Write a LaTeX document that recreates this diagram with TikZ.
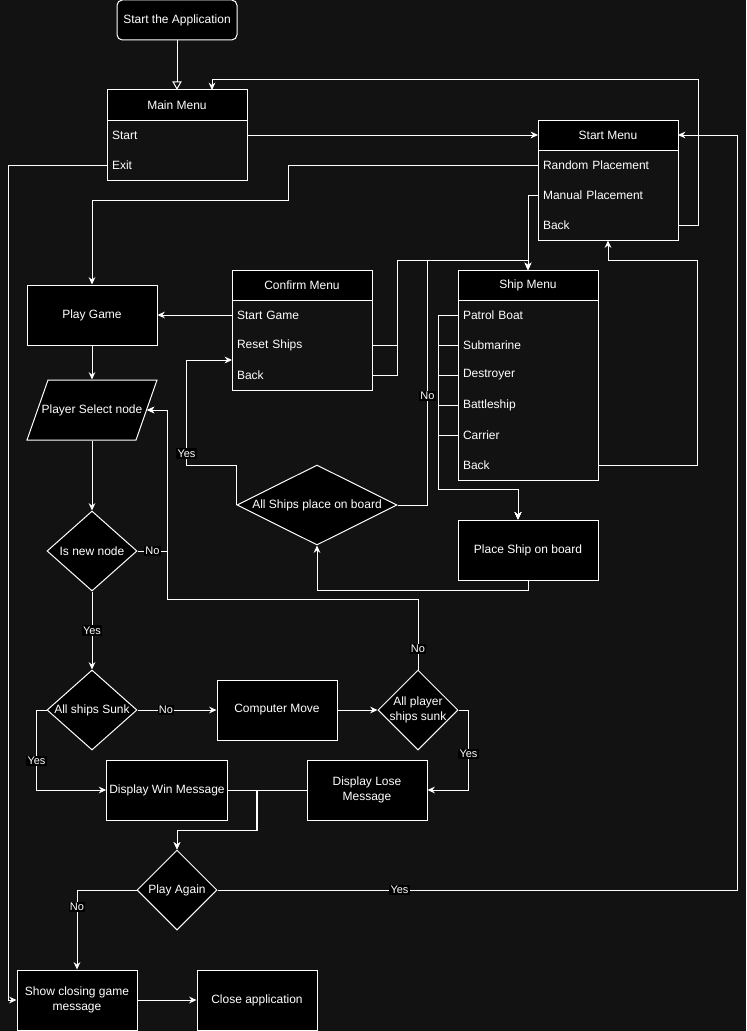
\documentclass[tikz,border=0pt]{standalone}
\usepackage{fontspec}
\setmainfont{Liberation Sans}
\usetikzlibrary{shapes.geometric, arrows.meta, positioning, calc, fit}
\definecolor{bgdark}{RGB}{18,18,18}

\begin{document}
\begin{tikzpicture}[x=0.75pt, y=-0.75pt, line width=0.75pt,
  every node/.style={text=white, font=\fontsize{9}{11}\selectfont},
  box/.style={draw=white, fill=black, minimum width=90pt, minimum height=45pt,
              align=center, inner sep=2pt},
  hdr/.style={draw=white, fill=black, minimum width=105pt, minimum height=22.5pt,
              inner sep=0pt, outer sep=0pt},
  item/.style={minimum height=22.5pt, text width=97.5pt, inner xsep=3.75pt,
               inner ysep=0pt, outer sep=0pt, align=left},
  frame/.style={draw=white, inner sep=0pt},
  dec/.style={diamond, draw=white, fill=black, inner sep=0pt},
  lbl/.style={fill=black, font=\fontsize{8.25}{9}\selectfont, inner sep=1pt},
  arr/.style={draw=white, -{Stealth[length=5.5pt, width=5pt]}},
]
\path[use as bounding box, fill=bgdark] (0,0) rectangle (746,1031);

% Start and main menu
\node[box, rounded corners=4pt, minimum height=30pt] (startapp) at (177,20) {Start the Application};
\node[hdr] (mainmenu) at (177,105) {Main Menu};
\node[item, below=0pt of mainmenu] (mmstart) {Start};
\node[item, below=0pt of mmstart] (mmexit) {Exit};
\node[frame, fit=(mainmenu)(mmexit)] (mainbox) {};

% Start menu
\node[hdr] (startmenu) at (608,135) {Start Menu};
\node[item, below=0pt of startmenu] (smrandom) {Random Placement};
\node[item, below=0pt of smrandom] (smmanual) {Manual Placement};
\node[item, below=0pt of smmanual] (smback) {Back};
\node[frame, fit=(startmenu)(smback)] (startbox) {};

% Confirm menu
\node[hdr] (confirm) at (302,285) {Confirm Menu};
\node[item, below=0pt of confirm] (cmstart) {Start Game};
\node[item, below=0pt of cmstart] (cmreset) {Reset Ships};
\node[item, below=0pt of cmreset] (cmback) {Back};
\node[frame, fit=(confirm)(cmback)] (confirmbox) {};

% Ship menu
\node[hdr] (shipmenu) at (528,285) {Ship Menu};
\node[item, below=0pt of shipmenu] (patrol) {Patrol Boat};
\node[item, below=0pt of patrol] (submarine) {Submarine};
\node[item, below=0pt of submarine] (destroyer) {Destroyer};
\node[item, below=0pt of destroyer] (battleship) {Battleship};
\node[item, below=0pt of battleship] (carrier) {Carrier};
\node[item, below=0pt of carrier] (shipback) {Back};
\node[frame, fit=(shipmenu)(shipback)] (shipbox) {};

\node[box, minimum width=105pt] (placeship) at (528,550) {Place Ship on board};
\node[dec, minimum width=120pt, minimum height=60pt] (shipsdone) at (317,505) {\makebox[0pt]{All Ships place on board}};

% Game loop
\node[box, minimum width=97.5pt] (playgame) at (92,315) {Play Game};
\node[trapezium, trapezium left angle=70.7, trapezium right angle=109.3, trapezium stretches body,
      draw=white, fill=black, minimum width=97.5pt, text height=6.5pt, text depth=1.9pt,
      inner xsep=0pt, inner ysep=18.3pt]
      (playersel) at (92,410) {\makebox[0pt]{Player Select node}};
\node[dec, minimum width=67.5pt, minimum height=60pt] (isnew) at (92,551) {\makebox[0pt]{Is new node}};
\node[dec, minimum width=67.5pt, minimum height=60pt] (allsunk) at (92,710) {\makebox[0pt]{All ships Sunk}};
\node[box] (compmove) at (277,710) {Computer Move};
\node[dec, minimum width=60pt, minimum height=60pt] (plsunk) at (418,710)
      {\makebox[0pt]{\begin{tabular}{@{}c@{}}All player\\ships sunk\end{tabular}}};
\node[box] (dispwin) at (167,790) {Display Win Message};
\node[box] (displose) at (367,790) {Display Lose\\Message};
\node[dec, minimum width=60pt, minimum height=60pt] (playagain) at (177,890) {\makebox[0pt]{Play Again}};
\node[box] (showclose) at (77,1000) {Show closing game\\message};
\node[box] (closeapp) at (257,1000) {Close application};

% Menu connectors
\draw[white, -{Triangle[open, length=6.5pt, width=7pt]}] (startapp) -- (mainmenu);
\draw[arr] (mmstart.east) -- (startmenu.west);
\draw[arr] (mmexit.west) -- ++(-99,0) |- (showclose.west);
\draw[arr] (smrandom.west) -- ++(-250,0) -- ++(0,35) -| (playgame.north);
\draw[arr] (smmanual.west) -| (shipmenu.north);
\draw[arr] (smback.east) -- ++(20,0) -- ++(0,-145) -| ($(mainmenu.north)+(35,0)$);
\draw[arr] (shipback.east) -- ++(99,0) -- ++(0,-205) -| (startbox.south);
\draw[arr] (cmstart.west) -- (playgame.east);
\draw[arr] (cmreset.east) -- ++(25,0) -- ++(0,-85) -| (shipmenu.north);
\draw[arr] (cmback.east) -- ++(25,0) -- ++(0,-115) -| (shipmenu.north);
\foreach \s in {patrol, submarine, destroyer, battleship, carrier}
  \draw[arr] (\s.west) -- ++(-20,0) |- ($(placeship.north)+(-10,-30)$) -- ($(placeship.north)+(-10,0)$);
\draw[arr] (placeship.south) -- ++(0,10) -| (shipsdone.south);
\draw[arr] (shipsdone.west) -- ++(0,-40) -- ++(-50,0) -- ++(0,-105) node[lbl, pos=0.11] {Yes}
  -- ($(cmreset.west)+(0,15)$);
\draw[arr] (shipsdone.east) -- ++(30,0) -- ++(0,-245) node[lbl, pos=0.445] {No} -| (shipmenu.north);

% Game connectors
\draw[arr] (playgame) -- (playersel);
\draw[arr] (playersel) -- (isnew);
\draw[arr] (isnew.east) -- ++(30,0) node[lbl, pos=0.5] {No} |- (playersel.east);
\draw[arr] (isnew) -- node[lbl] {Yes} (allsunk);
\draw[arr] (allsunk) -- node[lbl, pos=0.36] {No} (compmove);
\draw[arr] (compmove) -- (plsunk);
\draw[arr] (plsunk.north) -- ++(0,-70) node[lbl, pos=0.29] {No} -- ++(-251,0) |- (playersel.east);
\draw[arr] (plsunk.east) -- ++(10,0) |- node[lbl, pos=0.275] {Yes} (displose.east);
\draw[arr] (allsunk.west) -- ++(-10,0) |- node[lbl, pos=0.32] {Yes} (dispwin.west);
\draw[arr] (dispwin.east) -- ++(30,0) -- ++(0,40) -| (playagain.north);
\draw[arr] (displose.west) -- ++(-50,0) -- ++(0,40) -| (playagain.north);
\draw[arr] (playagain.west) -| node[lbl, pos=0.606] {No} (showclose.north);
\draw[arr] (showclose) -- (closeapp);
\draw[arr] (playagain.east) -- ++(520,0) node[lbl, pos=0.35] {Yes} |- (startmenu.east);
\end{tikzpicture}
\end{document}
